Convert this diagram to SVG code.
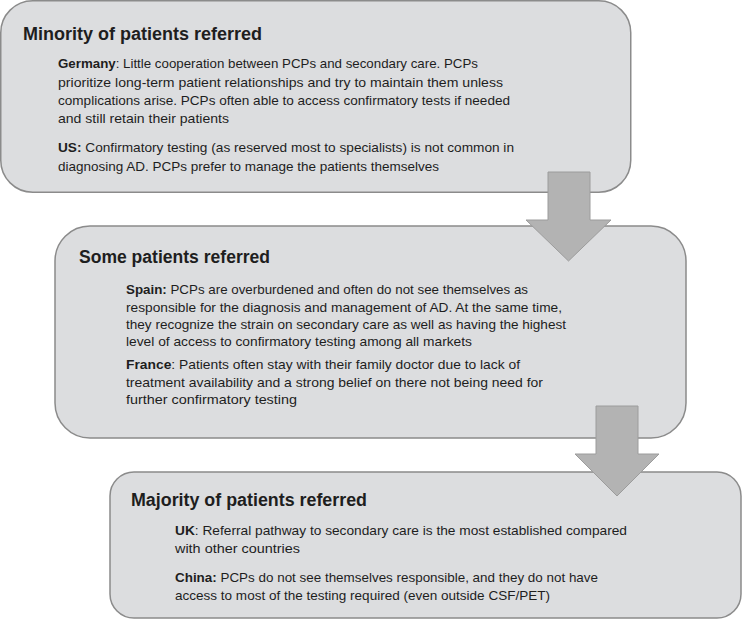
<svg xmlns="http://www.w3.org/2000/svg" width="742" height="620" viewBox="0 0 742 620">
<style>
.box{fill:#dcdddf;stroke:#8b8b8b;stroke-width:1.5}
.arrow{fill:#b3b3b3;stroke:#9c9c9c;stroke-width:1}
text{font-family:"Liberation Sans",Arial,sans-serif;fill:#1e1e1e}
.title{font-size:18px;font-weight:bold}
.body{font-size:13px}
.b{font-weight:bold}
</style>
<rect width="742" height="620" fill="#ffffff"/>
<g id="node-minority">
<rect class="box" x="0.75" y="0.75" width="630" height="191.5" rx="32" ry="32"/>
<text class="title" x="23" y="40" textLength="239" lengthAdjust="spacingAndGlyphs">Minority of patients referred</text>
<text class="body" x="58" y="68" textLength="420" lengthAdjust="spacingAndGlyphs"><tspan class="b">Germany</tspan>: Little cooperation between PCPs and secondary care. PCPs</text>
<text class="body" x="58" y="86.5" textLength="445" lengthAdjust="spacingAndGlyphs">prioritize long-term patient relationships and try to maintain them unless</text>
<text class="body" x="58" y="105" textLength="452" lengthAdjust="spacingAndGlyphs">complications arise. PCPs often able to access confirmatory tests if needed</text>
<text class="body" x="58" y="123" textLength="171" lengthAdjust="spacingAndGlyphs">and still retain their patients</text>
<text class="body" x="58" y="152" textLength="456" lengthAdjust="spacingAndGlyphs"><tspan class="b">US:</tspan> Confirmatory testing (as reserved most to specialists) is not common in</text>
<text class="body" x="58" y="171" textLength="381" lengthAdjust="spacingAndGlyphs">diagnosing AD. PCPs prefer to manage the patients themselves</text>
</g>
<g id="node-some">
<rect class="box" x="55" y="226" width="631" height="212" rx="35" ry="35"/>
<text class="title" x="79" y="263" textLength="191" lengthAdjust="spacingAndGlyphs">Some patients referred</text>
<text class="body" x="126" y="294" textLength="402" lengthAdjust="spacingAndGlyphs"><tspan class="b">Spain:</tspan> PCPs are overburdened and often do not see themselves as</text>
<text class="body" x="126" y="311.5" textLength="436" lengthAdjust="spacingAndGlyphs">responsible for the diagnosis and management of AD. At the same time,</text>
<text class="body" x="126" y="329" textLength="440" lengthAdjust="spacingAndGlyphs">they recognize the strain on secondary care as well as having the highest</text>
<text class="body" x="126" y="346" textLength="346" lengthAdjust="spacingAndGlyphs">level of access to confirmatory testing among all markets</text>
<text class="body" x="126" y="369" textLength="394" lengthAdjust="spacingAndGlyphs"><tspan class="b">France</tspan>: Patients often stay with their family doctor due to lack of</text>
<text class="body" x="126" y="387" textLength="417" lengthAdjust="spacingAndGlyphs">treatment availability and a strong belief on there not being need for</text>
<text class="body" x="126" y="404" textLength="171" lengthAdjust="spacingAndGlyphs">further confirmatory testing</text>
</g>
<g id="node-majority">
<rect class="box" x="110" y="472" width="631" height="146" rx="24" ry="24"/>
<text class="title" x="131" y="506" textLength="236" lengthAdjust="spacingAndGlyphs">Majority of patients referred</text>
<text class="body" x="175" y="535" textLength="452" lengthAdjust="spacingAndGlyphs"><tspan class="b">UK</tspan>: Referral pathway to secondary care is the most established compared</text>
<text class="body" x="175" y="553" textLength="125" lengthAdjust="spacingAndGlyphs">with other countries</text>
<text class="body" x="175" y="582" textLength="423" lengthAdjust="spacingAndGlyphs"><tspan class="b">China:</tspan> PCPs do not see themselves responsible, and they do not have</text>
<text class="body" x="175" y="600" textLength="375" lengthAdjust="spacingAndGlyphs">access to most of the testing required (even outside CSF/PET)</text>
</g>
<g id="connectors">
<path id="arrow-1" class="arrow" d="M548,172 H590 V220 H611 L568.5,261 L526,220 H548 Z"/>
<path id="arrow-2" class="arrow" d="M596,406 H638 V454 H659 L617,496 L575,454 H596 Z"/>
</g>
</svg>
